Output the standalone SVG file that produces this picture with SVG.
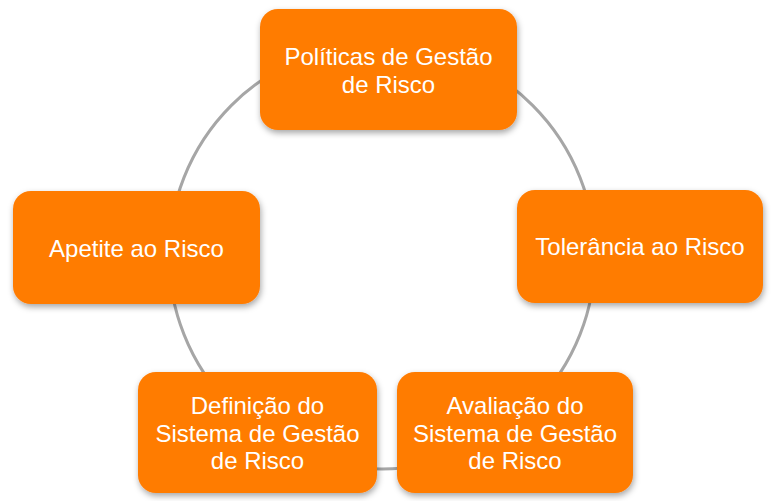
<svg xmlns="http://www.w3.org/2000/svg" width="771" height="501" viewBox="0 0 771 501">
<defs>
<filter id="sh" x="-10%" y="-10%" width="120%" height="130%">
<feDropShadow dx="1" dy="3" stdDeviation="3" flood-color="#000" flood-opacity="0.35"/>
</filter>
<style>
.box{fill:#FF7B00;filter:url(#sh)}
.t{font-family:"Liberation Sans",Arial,sans-serif;font-size:24px;fill:#fff;text-anchor:middle}
.ring{fill:none;stroke:#A6A6A6;stroke-width:3}
</style>
</defs>
<rect width="771" height="501" fill="#fff"/>
<g id="connectors">
<circle class="ring" cx="382" cy="256" r="213"/>
</g>
<g id="n1">
<rect class="box" x="260" y="9" width="257" height="121" rx="18"/>
<text class="t" x="388.5" y="65">Políticas de Gestão</text>
<text class="t" x="388.5" y="93">de Risco</text>
</g>
<g id="n2">
<rect class="box" x="517" y="190" width="246" height="113" rx="18"/>
<text class="t" x="640" y="255">Tolerância ao Risco</text>
</g>
<g id="n3">
<rect class="box" x="397" y="372" width="236" height="121" rx="18"/>
<text class="t" x="515" y="414">Avaliação do</text>
<text class="t" x="515" y="442">Sistema de Gestão</text>
<text class="t" x="515" y="469">de Risco</text>
</g>
<g id="n4">
<rect class="box" x="138" y="372" width="239" height="121" rx="18"/>
<text class="t" x="257.5" y="414">Definição do</text>
<text class="t" x="257.5" y="442">Sistema de Gestão</text>
<text class="t" x="257.5" y="469">de Risco</text>
</g>
<g id="n5">
<rect class="box" x="13" y="191" width="247" height="113" rx="18"/>
<text class="t" x="136.5" y="257">Apetite ao Risco</text>
</g>
</svg>
